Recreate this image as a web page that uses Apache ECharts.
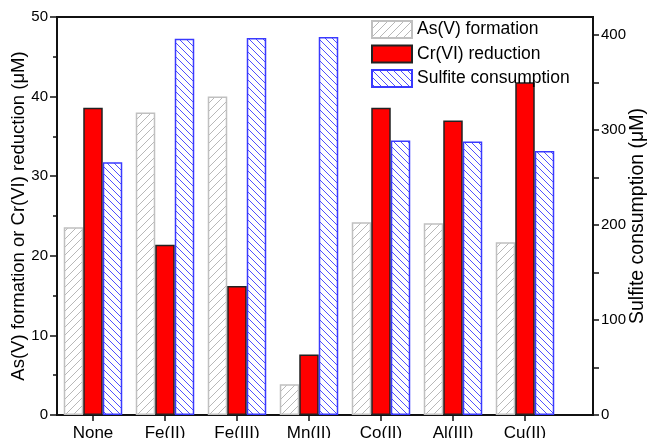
<!DOCTYPE html>
<html><head><meta charset="utf-8">
<script src="https://cdn.jsdelivr.net/npm/echarts@6/dist/echarts.min.js"></script>
<style>html,body{margin:0;padding:0;background:#fff}#c{width:649px;height:438px}</style>
</head><body><div id="c"></div>
<script>
const categories = ['None', 'Fe(II)', 'Fe(III)', 'Mn(II)', 'Co(II)', 'Al(III)', 'Cu(II)'];
const asFormation = [23.6, 38.0, 40.0, 3.85, 24.2, 24.1, 21.7];
const crReduction = [38.6, 21.4, 16.2, 7.6, 38.6, 37.0, 41.8];
const sulfiteConsumption = [266, 396, 397, 398, 289, 288, 278];
const rightTickLabels = [0, 100, 200, 300, 400];
const rightAllTicks = [0, 50, 100, 150, 200, 250, 300, 350, 400];

function hatch(size, color, dir) {
  const c = document.createElement('canvas');
  c.width = size; c.height = size;
  const g = c.getContext('2d');
  g.fillStyle = '#fff'; g.fillRect(0, 0, size, size);
  g.strokeStyle = color; g.lineWidth = 1;
  g.beginPath();
  for (const o of [-size, 0, size]) {
    if (dir === '/') { g.moveTo(o, size); g.lineTo(o + size, 0); }
    else { g.moveTo(o, 0); g.lineTo(o + size, size); }
  }
  g.stroke();
  return c;
}
const FONT = '"Liberation Sans", Arial, sans-serif';
const chart = echarts.init(document.getElementById('c'), null, {renderer: 'canvas'});
chart.setOption({
  animation: false,
  backgroundColor: '#fff',
  textStyle: {fontFamily: FONT, color: '#000'},
  legend: {
    orient: 'vertical', left: 366, top: 17, padding: [3, 5],
    itemWidth: 40, itemHeight: 17, itemGap: 5.5, icon: 'rect',
    textStyle: {fontFamily: FONT, fontSize: 17.5, color: '#000'},
    data: ['As(V) formation', 'Cr(VI) reduction', 'Sulfite consumption']
  },
  grid: [
    {left: 57, top: 17, width: 504, height: 398, containLabel: false, outerBoundsMode: 'none'},
    {left: 57, top: 17, width: 536, height: 398, outerBoundsMode: 'none', show: true, borderColor: '#111', borderWidth: 2, backgroundColor: 'transparent'}
  ],
  xAxis: [
    {type: 'category', gridIndex: 0, data: categories,
     axisLine: {show: false},
     axisTick: {show: true, alignWithLabel: true, length: 6, lineStyle: {color: '#111', width: 1.5}},
     axisLabel: {fontFamily: FONT, fontSize: 17, color: '#000', margin: 10}},
    {type: 'value', gridIndex: 1, show: false}
  ],
  yAxis: [
    {type: 'value', gridIndex: 0, min: 0, max: 50, interval: 10, position: 'left',
     name: 'As(V) formation or Cr(VI) reduction (\u03bcM)', nameLocation: 'middle', nameRotate: 90, nameGap: 29,
     nameMoveOverlap: false,
     nameTextStyle: {fontFamily: FONT, fontSize: 18.5, color: '#000'},
     axisLine: {show: false},
     axisTick: {show: true, length: 7, lineStyle: {color: '#111', width: 1.5}},
     minorTick: {show: true, splitNumber: 2, length: 4, lineStyle: {color: '#111', width: 1.5}},
     splitLine: {show: false},
     axisLabel: {fontFamily: FONT, fontSize: 15, color: '#000', margin: 9}},
    {type: 'value', gridIndex: 0, min: 0, max: 419, interval: 100, position: 'right', offset: 32,
     name: 'Sulfite consumption (\u03bcM)', nameLocation: 'middle', nameRotate: 90, nameGap: 35,
     nameMoveOverlap: false,
     nameTextStyle: {fontFamily: FONT, fontSize: 19.5, color: '#000'},
     axisLine: {show: false},
     axisTick: {show: true, length: 6, customValues: rightAllTicks, lineStyle: {color: '#111', width: 1.5}},
     splitLine: {show: false},
     axisLabel: {fontFamily: FONT, fontSize: 15, color: '#000', margin: 8, customValues: rightTickLabels}},
    {type: 'value', gridIndex: 1, show: false}
  ],
  series: [
    {name: 'As(V) formation', type: 'bar', xAxisIndex: 0, yAxisIndex: 0, data: asFormation,
     barWidth: 19.5, barGap: '0%',
     itemStyle: {color: {image: hatch(8, '#b8b8b8', '/'), repeat: 'repeat'}, borderColor: '#c0c0c0', borderWidth: 1.5}},
    {name: 'Cr(VI) reduction', type: 'bar', xAxisIndex: 0, yAxisIndex: 0, data: crReduction,
     barWidth: 19.5, barGap: '0%',
     itemStyle: {color: '#ff0000', borderColor: '#222', borderWidth: 1.5}},
    {name: 'Sulfite consumption', type: 'bar', xAxisIndex: 0, yAxisIndex: 1, data: sulfiteConsumption,
     barWidth: 19.5, barGap: '0%',
     itemStyle: {color: {image: hatch(7, '#5050ff', '\\'), repeat: 'repeat'}, borderColor: '#3a3aff', borderWidth: 1.5}}
  ]
});
</script></body></html>
